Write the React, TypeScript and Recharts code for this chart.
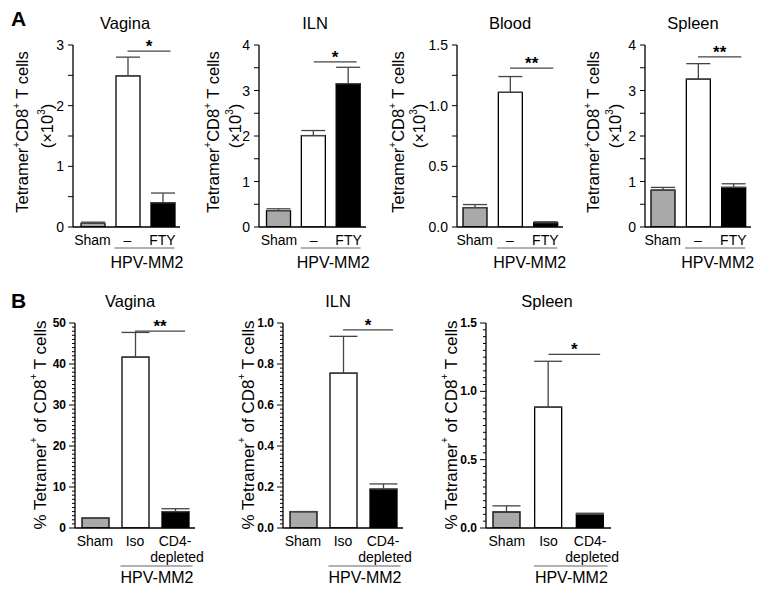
import React from 'react';
import { BarChart, Bar, XAxis, YAxis, Cell, ErrorBar, ReferenceLine } from 'recharts';

const FONT = '"Liberation Sans", Arial, Helvetica, sans-serif';

// ---------- data ----------
const catsA = ['Sham', '–', 'FTY'];
const catsB = ['Sham', 'Iso', 'CD4-\ndepleted'];
const barFills = ['#a9a9a9', '#ffffff', '#000000'];
const groupLabel = 'HPV-MM2';

const aVaginaMean = [0.06, 2.49, 0.4];
const aVaginaSem = [0.02, 0.31, 0.16];
const aIlnMean = [0.36, 2.01, 3.15];
const aIlnSem = [0.04, 0.11, 0.36];
const aBloodMean = [0.16, 1.11, 0.035];
const aBloodSem = [0.025, 0.13, 0.008];
const aSpleenMean = [0.81, 3.25, 0.87];
const aSpleenSem = [0.06, 0.34, 0.08];

const bVaginaMean = [2.4, 41.7, 4.0];
const bVaginaSem = [0, 6.0, 0.7];
const bIlnMean = [0.08, 0.755, 0.19];
const bIlnSem = [0, 0.18, 0.025];
const bSpleenMean = [0.117, 0.885, 0.1];
const bSpleenSem = [0.045, 0.335, 0.008];

const aVaginaTicks = ['0', '1', '2', '3'];
const aIlnTicks = ['0', '1', '2', '3', '4'];
const aBloodTicks = ['0.0', '0.5', '1.0', '1.5'];
const aSpleenTicks = ['0', '1', '2', '3', '4'];
const bVaginaTicks = ['0', '10', '20', '30', '40', '50'];
const bIlnTicks = ['0.0', '0.2', '0.4', '0.6', '0.8', '1.0'];
const bSpleenTicks = ['0.0', '0.5', '1.0', '1.5'];

const aSigY = [2.9, 3.63, 1.31, 3.74];
const aStars = ['*', '*', '**', '**'];
const bSigY = [48.0, 0.966, 1.27];
const bStars = ['**', '*', '*'];

const titles = ['Vagina', 'ILN', 'Blood', 'Spleen'];

// ---------- helpers ----------
const buildRows = (cats: string[], mean: number[], sem: number[]) =>
  cats.map((c, i) => ({ name: c, value: mean[i], err: [0, sem[i]] }));

const buildTicks = (labels: string[], sub: number) => {
  const vals = labels.map(parseFloat);
  const out: number[] = [];
  for (let k = 0; k < vals.length - 1; k++) {
    const step = (vals[k + 1] - vals[k]) / sub;
    for (let j = 0; j < sub; j++) out.push(Math.round((vals[k] + j * step) * 1e6) / 1e6);
  }
  out.push(vals[vals.length - 1]);
  return out;
};

const makeYTick = (labels: string[], opts: { bold: boolean; fontSize: number; major: number; minor: number; gap: number }) =>
  (props: any) => {
    const { x, y, payload } = props;
    const v = payload.value;
    const lab = labels.find((l) => Math.abs(parseFloat(l) - v) < 1e-6);
    return (
      <g>
        <line x1={x} x2={x - (lab !== undefined ? opts.major : opts.minor)} y1={y} y2={y} stroke="#000" strokeWidth={1} />
        {lab !== undefined && (
          <text
            x={x - opts.gap}
            y={y}
            textAnchor="end"
            dominantBaseline="central"
            fontFamily={FONT}
            fontSize={opts.fontSize}
            fontWeight={opts.bold ? 700 : 400}
            fill="#000"
          >
            {lab}
          </text>
        )}
      </g>
    );
  };

const makeXTick = (opts: { band: number; barW: number; labelDy: number; line2Dy: number; hpvLineDy: number; hpvTextDy: number; hpvExt: number }) =>
  (props: any) => {
    const { x, y, payload, index } = props;
    const lines = String(payload.value).split('\n');
    return (
      <g>
        {lines.map((ln, i) => (
          <text
            key={i}
            x={x + (i > 0 ? 2 : 0)}
            y={y + opts.labelDy + i * opts.line2Dy}
            textAnchor="middle"
            fontFamily={FONT}
            fontSize={14}
            fill="#000"
          >
            {ln}
          </text>
        ))}
        {index === 1 && (
          <g>
            <line
              x1={x - opts.barW / 2 - 1}
              x2={x + opts.band + opts.barW / 2 + opts.hpvExt}
              y1={y + opts.hpvLineDy}
              y2={y + opts.hpvLineDy}
              stroke="#666"
              strokeWidth={1.2}
            />
            <text
              x={x + opts.band / 2 + 2}
              y={y + opts.hpvTextDy}
              textAnchor="middle"
              fontFamily={FONT}
              fontSize={16}
              fill="#000"
            >
              {groupLabel}
            </text>
          </g>
        )}
      </g>
    );
  };

const sigShape = (stars: string, ext: number) => (p: any) => {
  const { x1, y1, x2 } = p;
  return (
    <g>
      <line x1={x1} x2={x2 + ext} y1={y1} y2={y1} stroke="#444" strokeWidth={1.2} />
      <text
        x={(x1 + x2 + ext) / 2}
        y={y1 + 1}
        textAnchor="middle"
        fontFamily={FONT}
        fontSize={17}
        fontWeight={700}
        fill="#000"
      >
        {stars}
      </text>
    </g>
  );
};

type PanelProps = {
  left: number;
  top: number;
  width: number;
  height: number;
  marginTop: number;
  mr: number;
  yw: number;
  xh: number;
  padL: number;
  padR: number;
  cats: string[];
  mean: number[];
  sem: number[];
  tickLabels: string[];
  sub: number;
  sigY: number;
  stars: string;
  title: string;
  titleX: number;
  titleY: number;
  kind: 'A' | 'B';
  yl1: number;
  yl2: number;
  ylY: number;
  letter?: string;
  letterY?: number;
};

const Panel = (p: PanelProps) => {
  const rows = buildRows(p.cats, p.mean, p.sem);
  const ticks = buildTicks(p.tickLabels, p.sub);
  const lo = parseFloat(p.tickLabels[0]);
  const hi = parseFloat(p.tickLabels[p.tickLabels.length - 1]);
  const plotW = p.width - p.yw - p.mr;
  const band = (plotW - p.padL - p.padR) / 3;
  const isA = p.kind === 'A';
  const barW = isA ? 24 : 27;
  const yTick = isA
    ? makeYTick(p.tickLabels, { bold: false, fontSize: 14, major: 5, minor: 5, gap: 9 })
    : makeYTick(p.tickLabels, { bold: true, fontSize: 12, major: 6, minor: 3, gap: 9 });
  const xTick = isA
    ? makeXTick({ band, barW, labelDy: 18, line2Dy: 16, hpvLineDy: 21, hpvTextDy: 40.5, hpvExt: 0 })
    : makeXTick({ band, barW, labelDy: 17.5, line2Dy: 16, hpvLineDy: 38, hpvTextDy: 55, hpvExt: 4 });
  const axisX = p.yw;
  const tfs = 16.5;
  return (
    <div style={{ position: 'absolute', left: p.left, top: p.top }}>
      <BarChart
        width={p.width}
        height={p.height}
        data={rows}
        margin={{ top: p.marginTop, right: p.mr, bottom: 0, left: 0 }}
        barSize={barW}
      >
        <XAxis
          dataKey="name"
          type="category"
          interval={0}
          tickLine={false}
          tickSize={0}
          tickMargin={0}
          height={p.xh}
          padding={{ left: p.padL, right: p.padR }}
          axisLine={{ stroke: '#000', strokeWidth: 1.3 }}
          tick={xTick}
        />
        <YAxis
          type="number"
          domain={[lo, hi]}
          ticks={ticks}
          interval={0}
          width={p.yw}
          tickLine={false}
          tickSize={0}
          tickMargin={0}
          axisLine={{ stroke: '#000', strokeWidth: 1.3 }}
          tick={yTick}
          allowDataOverflow
        />
        <Bar dataKey="value" stroke="#000" strokeWidth={1.3} isAnimationActive={false}>
          {rows.map((r, i) => (
            <Cell key={r.name} fill={barFills[i]} />
          ))}
          <ErrorBar dataKey="err" direction="y" width={isA ? 12 : 14} stroke="#444" strokeWidth={1.3} />
        </Bar>
        <ReferenceLine
          segment={[
            { x: p.cats[1], y: p.sigY },
            { x: p.cats[2], y: p.sigY },
          ]}
          ifOverflow="visible"
          shape={sigShape(p.stars, isA ? 8 : 10)}
        />
        <text x={p.titleX} y={p.titleY} textAnchor="middle" fontFamily={FONT} fontSize={tfs} fill="#000">
          {p.title}
        </text>
        {p.letter && (
          <text x={11} y={p.letterY} fontFamily={FONT} fontSize={21} fontWeight={700} fill="#000">
            {p.letter}
          </text>
        )}
        {isA ? (
          <g fontFamily={FONT} fill="#000">
            <text
              x={axisX - p.yl1}
              y={p.ylY}
              transform={`rotate(-90, ${axisX - p.yl1}, ${p.ylY})`}
              textAnchor="middle"
              dominantBaseline="central"
              fontSize={16.5}
            >
              Tetramer
              <tspan fontSize={10} dy={-6}>+</tspan>
              <tspan dy={6}>CD8</tspan>
              <tspan fontSize={10} dy={-6}>+</tspan>
              <tspan dy={6}> T cells</tspan>
            </text>
            <text
              x={axisX - p.yl2}
              y={p.ylY - 6}
              transform={`rotate(-90, ${axisX - p.yl2}, ${p.ylY - 6})`}
              textAnchor="middle"
              dominantBaseline="central"
              fontSize={16.5}
            >
              (×10
              <tspan fontSize={10} dy={-6}>3</tspan>
              <tspan dy={6}>)</tspan>
            </text>
          </g>
        ) : (
          <text
            x={axisX - p.yl1}
            y={p.ylY}
            transform={`rotate(-90, ${axisX - p.yl1}, ${p.ylY})`}
            textAnchor="middle"
            dominantBaseline="central"
            fontFamily={FONT}
            fontSize={17}
            fill="#000"
          >
            % Tetramer
            <tspan fontSize={10} dy={-7}>+</tspan>
            <tspan dy={7}> of CD8</tspan>
            <tspan fontSize={10} dy={-7}>+</tspan>
            <tspan dy={7}> T cells</tspan>
          </text>
        )}
      </BarChart>
    </div>
  );
};

export default function App() {
  const aCommon = { top: 0, height: 275, marginTop: 45, xh: 48, mr: 5, cats: catsA, sub: 2, kind: 'A' as const, titleY: 29, ylY: 132 };
  const bCommon = { top: 283, height: 305, marginTop: 40, xh: 60, mr: 15, cats: catsB, sub: 10, kind: 'B' as const, titleY: 24, ylY: 142 };
  return (
    <div style={{ position: 'absolute', left: 0, top: 0, width: 763, height: 595, background: '#fff', overflow: 'hidden' }}>
      <Panel {...aCommon} left={0} width={185} yw={73} padL={2} padR={0} mean={aVaginaMean} sem={aVaginaSem}
        tickLabels={aVaginaTicks} sigY={aSigY[0]} stars={aStars[0]} title={titles[0]} titleX={125} yl1={51} yl2={26}
        letter="A" letterY={26} />
      <Panel {...aCommon} left={185} width={186} yw={74} padL={2.5} padR={0} mean={aIlnMean} sem={aIlnSem}
        tickLabels={aIlnTicks} sigY={aSigY[1]} stars={aStars[1]} title={titles[1]} titleX={130} yl1={46} yl2={24} />
      <Panel {...aCommon} left={375} width={193} yw={82} padL={0} padR={0} mean={aBloodMean} sem={aBloodSem}
        tickLabels={aBloodTicks} sigY={aSigY[2]} stars={aStars[2]} title={titles[2]} titleX={135} yl1={59} yl2={38} />
      <Panel {...aCommon} left={568} width={188} yw={77} padL={0} padR={0} mean={aSpleenMean} sem={aSpleenSem}
        tickLabels={aSpleenTicks} sigY={aSigY[3]} stars={aStars[3]} title={titles[3]} titleX={125} yl1={52} yl2={30} />

      <Panel {...bCommon} left={0} width={210} yw={75} padL={0} padR={0} mean={bVaginaMean} sem={bVaginaSem}
        tickLabels={bVaginaTicks} sigY={bSigY[0]} stars={bStars[0]} title={titles[0]} titleX={130} yl1={35} yl2={0}
        letter="B" letterY={25} />
      <Panel {...bCommon} left={200} width={218} yw={83} padL={0} padR={0} mean={bIlnMean} sem={bIlnSem}
        tickLabels={bIlnTicks} sigY={bSigY[1]} stars={bStars[1]} title={titles[1]} titleX={138} yl1={35} yl2={0} />
      <Panel {...bCommon} left={408} width={218} yw={78} padL={0} padR={0} mean={bSpleenMean} sem={bSpleenSem}
        tickLabels={bSpleenTicks} sigY={bSigY[2]} stars={bStars[2]} title={titles[3]} titleX={139} yl1={35} yl2={0} />
    </div>
  );
}
